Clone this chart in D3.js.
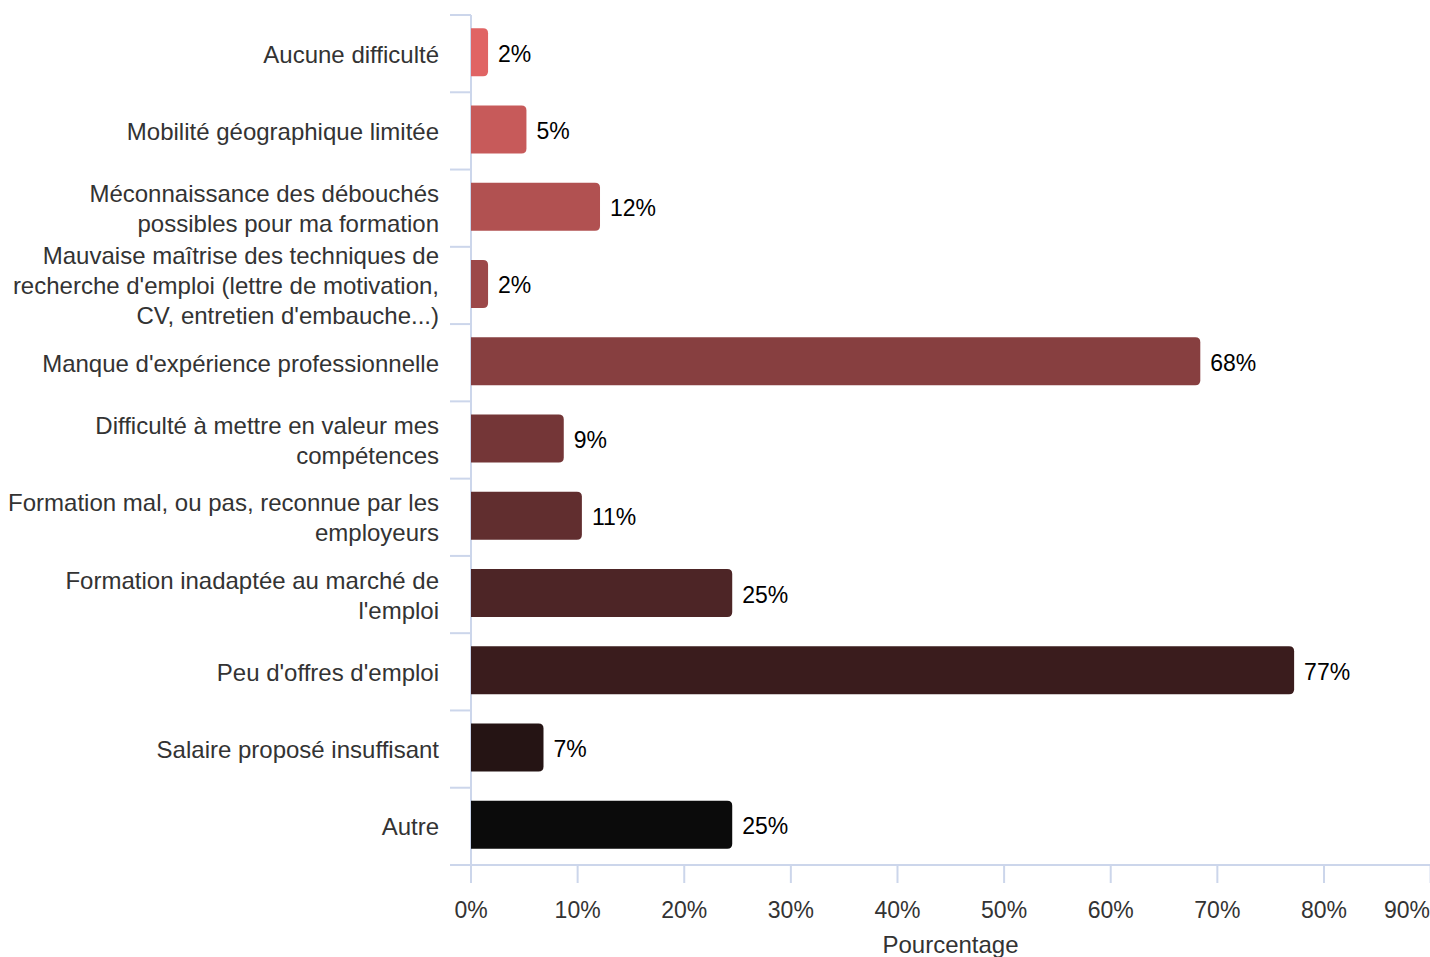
<!DOCTYPE html>
<html>
<head>
<meta charset="utf-8">
<script src="https://cdn.jsdelivr.net/npm/d3@7"></script>
<style>
  html, body { margin: 0; padding: 0; background: #fff; }
  svg { display: block; font-family: "Liberation Sans", Arial, sans-serif; }
</style>
</head>
<body>
<svg id="chart" width="1430" height="957"></svg>
<script>
const categories = [
  ["Aucune difficulté"],
  ["Mobilité géographique limitée"],
  ["Méconnaissance des débouchés", "possibles pour ma formation"],
  ["Mauvaise maîtrise des techniques de", "recherche d'emploi (lettre de motivation,", "CV, entretien d'embauche...)"],
  ["Manque d'expérience professionnelle"],
  ["Difficulté à mettre en valeur mes", "compétences"],
  ["Formation mal, ou pas, reconnue par les", "employeurs"],
  ["Formation inadaptée au marché de", "l'emploi"],
  ["Peu d'offres d'emploi"],
  ["Salaire proposé insuffisant"],
  ["Autre"]
];
const values = [1.6, 5.2, 12.1, 1.6, 68.4, 8.7, 10.4, 24.5, 77.2, 6.8, 24.5];
const valueLabels = ["2%", "5%", "12%", "2%", "68%", "9%", "11%", "25%", "77%", "7%", "25%"];
const tickValues = [0, 10, 20, 30, 40, 50, 60, 70, 80, 90];
const tickLabels = ["0%", "10%", "20%", "30%", "40%", "50%", "60%", "70%", "80%", "90%"];
const barColors = ["#e06464", "#c75a5a", "#b15151", "#9c4849", "#873f40", "#743637", "#612e2f", "#4d2526", "#3a1c1d", "#251414", "#0b0b0b"];
const axisTitle = "Pourcentage";

const svg = d3.select("#chart");
const W = 1430;
const plotLeft = 471, plotRight = 1430.6, plotTop = 15, plotBottom = 865;
const axisColor = "#ccd6eb";

const x = d3.scaleLinear().domain([0, 90]).range([plotLeft, plotRight]);
const idx = d3.range(categories.length);
const y = d3.scaleBand().domain(idx).range([plotTop, plotBottom]).padding(0);
const barH = 48;

// y axis line
svg.append("line")
  .attr("x1", plotLeft).attr("x2", plotLeft)
  .attr("y1", plotTop).attr("y2", plotBottom)
  .attr("stroke", axisColor).attr("stroke-width", 2);

// y ticks at band boundaries
const boundaries = idx.map(i => y(i)).concat([plotBottom]);
svg.append("g").selectAll("line").data(boundaries).join("line")
  .attr("x1", 450).attr("x2", plotLeft)
  .attr("y1", d => d).attr("y2", d => d)
  .attr("stroke", axisColor).attr("stroke-width", 2);

// x axis line
svg.append("line")
  .attr("x1", 450).attr("x2", W)
  .attr("y1", plotBottom).attr("y2", plotBottom)
  .attr("stroke", axisColor).attr("stroke-width", 2);

// x ticks
svg.append("g").selectAll("line").data(tickValues).join("line")
  .attr("x1", d => x(d)).attr("x2", d => x(d))
  .attr("y1", plotBottom).attr("y2", plotBottom + 18)
  .attr("stroke", axisColor).attr("stroke-width", 2);

// x tick labels
svg.append("g").selectAll("text").data(tickValues).join("text")
  .attr("x", d => x(d) > W - 25 ? W : x(d))
  .attr("text-anchor", d => x(d) > W - 25 ? "end" : "middle")
  .attr("y", 918)
  .attr("font-size", 23)
  .attr("fill", "#333")
  .text((d, i) => tickLabels[i]);

// axis title
svg.append("text")
  .attr("x", (plotLeft + W) / 2)
  .attr("y", 953)
  .attr("text-anchor", "middle")
  .attr("font-size", 24)
  .attr("fill", "#333")
  .text(axisTitle);

// bars with rounded right corners
const r = 5;
function barPath(i) {
  const cy = y(i) + y.bandwidth() / 2 - 1.5;
  const y0 = cy - barH / 2, y1 = cy + barH / 2;
  const x0 = x(0), x1 = x(values[i]);
  const rr = Math.min(r, (x1 - x0));
  return `M${x0},${y0} L${x1 - rr},${y0} Q${x1},${y0} ${x1},${y0 + rr} L${x1},${y1 - rr} Q${x1},${y1} ${x1 - rr},${y1} L${x0},${y1} Z`;
}
svg.append("g").selectAll("path").data(idx).join("path")
  .attr("d", i => barPath(i))
  .attr("fill", i => barColors[i]);

// value labels
svg.append("g").selectAll("text").data(idx).join("text")
  .attr("x", i => x(values[i]) + 10)
  .attr("y", i => y(i) + y.bandwidth() / 2 + 8)
  .attr("font-size", 23)
  .attr("fill", "#000")
  .text(i => valueLabels[i]);

// category labels
const lineH = 30;
const catG = svg.append("g");
idx.forEach(i => {
  const lines = categories[i];
  const cy = y(i) + y.bandwidth() / 2;
  const t = catG.append("text")
    .attr("text-anchor", "end")
    .attr("font-size", 24)
    .attr("fill", "#333");
  lines.forEach((ln, k) => {
    t.append("tspan")
      .attr("x", 439)
      .attr("y", cy + 9 + (k - (lines.length - 1) / 2) * lineH)
      .text(ln);
  });
});
</script>
</body>
</html>
